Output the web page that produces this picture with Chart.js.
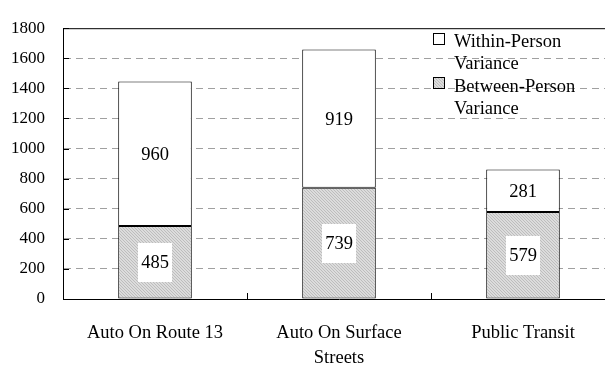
<!DOCTYPE html>
<html>
<head>
<meta charset="utf-8">
<script src="https://cdn.jsdelivr.net/npm/chart.js@4/dist/chart.umd.min.js"></script>
<style>
  html, body { margin: 0; padding: 0; background: #fff; overflow: hidden; }
  #wrap { width: 616px; height: 372px; }
</style>
</head>
<body>
<div id="wrap"><canvas id="c" width="616" height="372"></canvas></div>
<script>
// Travel mode categories and variance components
const categories = ["Auto On Route 13", ["Auto On Surface", "Streets"], "Public Transit"];
const betweenPerson = [485, 739, 579];
const withinPerson = [960, 919, 281];
const seriesNames = [["Within-Person", "Variance"], ["Between-Person", "Variance"]];
const yTicks = [0, 200, 400, 600, 800, 1000, 1200, 1400, 1600, 1800];

const SERIF = "'Liberation Serif', 'Times New Roman', serif";

// Fine diagonal hatch used for the between-person component
function makeHatch() {
  const p = document.createElement('canvas');
  p.width = 3; p.height = 3;
  const g = p.getContext('2d');
  g.fillStyle = '#dcdcdc';
  g.fillRect(0, 0, 3, 3);
  g.fillStyle = '#bdbdbd';
  g.fillRect(0, 0, 1, 1);
  g.fillRect(1, 1, 1, 1);
  g.fillRect(2, 2, 1, 1);
  return document.getElementById('c').getContext('2d').createPattern(p, 'repeat');
}
const hatch = makeHatch();

// Frame details: top border, inward ticks on both axes
const framePlugin = {
  id: 'frame',
  afterDraw(chart) {
    const { ctx, chartArea: a, scales } = chart;
    ctx.save();
    ctx.strokeStyle = '#000';
    ctx.lineWidth = 1;
    ctx.beginPath();
    ctx.moveTo(a.left, a.top + 0.5);
    ctx.lineTo(a.right, a.top + 0.5);
    yTicks.forEach(v => {
      const y = Math.round(scales.y.getPixelForValue(v)) + 0.5;
      ctx.moveTo(a.left, y);
      ctx.lineTo(a.left + 6, y);
    });
    for (let i = 1; i < categories.length; i++) {
      const x = Math.round((scales.x.getPixelForTick(i - 1) + scales.x.getPixelForTick(i)) / 2) + 0.5;
      ctx.moveTo(x, a.bottom);
      ctx.lineTo(x, a.bottom - 6);
    }
    ctx.stroke();
    ctx.restore();
  }
};

// Value labels in white boxes at the centre of each segment
const valueLabels = {
  id: 'valueLabels',
  afterDatasetsDraw(chart) {
    const { ctx } = chart;
    ctx.save();
    ctx.font = '18.5px ' + SERIF;
    ctx.textAlign = 'center';
    ctx.textBaseline = 'middle';
    chart.data.datasets.forEach((ds, di) => {
      chart.getDatasetMeta(di).data.forEach((el, i) => {
        const cx = el.x;
        const cy = (el.y + el.base) / 2;
        const w = ctx.measureText(String(ds.data[i])).width + 6;
        const h = 39;
        ctx.fillStyle = '#fff';
        ctx.fillRect(Math.round(cx - w / 2), Math.round(cy - h / 2), Math.round(w), h);
        ctx.fillStyle = '#000';
        ctx.fillText(String(ds.data[i]), cx, cy + 1);
      });
    });
    ctx.restore();
  }
};

// Legend inside the plot area, two-line entries
const legendBox = {
  id: 'legendBox',
  afterDraw(chart) {
    const { ctx } = chart;
    const x0 = 433, sq = 11;
    const entries = [
      { name: seriesNames[0], fill: '#fff', top: 33, base: 47 },
      { name: seriesNames[1], fill: hatch, top: 77, base: 92 }
    ];
    ctx.save();
    ctx.font = '18.5px ' + SERIF;
    ctx.textAlign = 'left';
    ctx.textBaseline = 'alphabetic';
    entries.forEach(e => {
      ctx.fillStyle = e.fill;
      ctx.fillRect(x0, e.top, sq, sq);
      ctx.strokeStyle = '#000';
      ctx.lineWidth = 1;
      ctx.strokeRect(x0 + 0.5, e.top + 0.5, sq, sq);
      ctx.fillStyle = '#000';
      e.name.forEach((line, k) => ctx.fillText(line, 454, e.base + k * 22));
    });
    ctx.restore();
  }
};

new Chart(document.getElementById('c'), {
  type: 'bar',
  data: {
    labels: categories,
    datasets: [
      {
        label: 'Between-Person Variance',
        data: betweenPerson,
        backgroundColor: hatch,
        borderColor: '#000',
        borderWidth: 1,
        borderSkipped: false
      },
      {
        label: 'Within-Person Variance',
        data: withinPerson,
        backgroundColor: '#fff',
        borderColor: '#000',
        borderWidth: 1,
        borderSkipped: false
      }
    ]
  },
  options: {
    responsive: false,
    animation: false,
    devicePixelRatio: 1,
    layout: { padding: { top: 13, right: 1, left: 0, bottom: 0 } },
    datasets: { bar: { barPercentage: 0.4, categoryPercentage: 1 } },
    plugins: {
      legend: { display: false },
      tooltip: { enabled: false }
    },
    scales: {
      x: {
        stacked: true,
        grid: { display: false, drawTicks: false },
        border: { display: true, color: '#000', width: 1 },
        ticks: {
          color: '#000',
          font: { family: SERIF, size: 18.5, lineHeight: 1.35 },
          padding: 22,
          maxRotation: 0
        },
        afterFit(s) { s.height = 73; }
      },
      y: {
        stacked: true,
        min: 0,
        max: 1800,
        afterBuildTicks(s) { s.ticks = yTicks.map(v => ({ value: v })); },
        grid: {
          drawTicks: false,
          color: c => (c.tick && (c.tick.value === 0 || c.tick.value === 1800)) ? 'rgba(0,0,0,0)' : '#a0a0a0',
          lineWidth: 1
        },
        border: { display: true, color: '#000', width: 1, dash: [7, 5] },
        ticks: {
          color: '#000',
          font: { family: SERIF, size: 17 },
          padding: 18,
          callback: v => String(v)
        },
        afterFit(s) { s.width = 63; }
      }
    }
  },
  plugins: [framePlugin, valueLabels, legendBox]
});
</script>
</body>
</html>
